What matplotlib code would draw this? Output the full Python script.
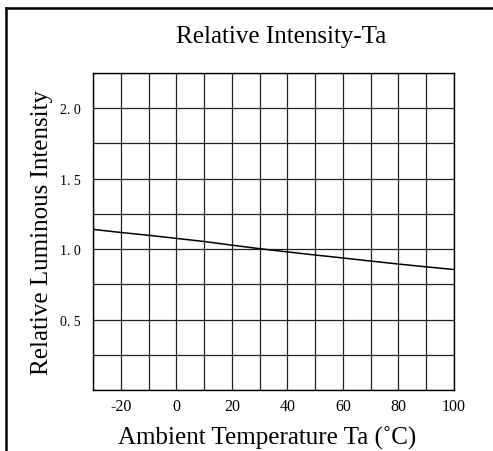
import numpy as np
import matplotlib.pyplot as plt
from matplotlib.lines import Line2D

# datos
temp = [-30, -20, -10, 0, 10, 20, 30, 40, 50, 60, 70, 80, 90, 100]
intensidad = [1.14, 1.118, 1.098, 1.076, 1.054, 1.028, 1.003, 0.98, 0.958,
              0.937, 0.915, 0.894, 0.874, 0.855]
xticks = [-20, 0, 20, 40, 60, 80, 100]
yticks = [0.5, 1.0, 1.5, 2.0]
ytick_labels = ['0. 5', '1. 0', '1. 5', '2. 0']

plt.rcParams['font.family'] = ['Liberation Serif', 'DejaVu Serif']
plt.rcParams['axes.unicode_minus'] = False

fig = plt.figure(figsize=(4.93, 4.52), dpi=100)
ax = fig.add_axes([0.1886, 0.135, 0.7323, 0.7013])

ax.plot(temp, intensidad, color='black', lw=1.1)

ax.set_xlim(-30, 100)
ax.set_ylim(0, 2.25)
ax.set_xticks(xticks)
ax.set_xticks(np.arange(-30, 101, 10), minor=True)
ax.set_yticks(yticks)
ax.set_yticklabels(ytick_labels)
ax.set_yticks(np.arange(0, 2.26, 0.25), minor=True)
ax.grid(True, which='both', color='#222222', lw=0.9)
ax.tick_params(which='both', length=0)
ax.tick_params(axis='x', labelsize=11.5, pad=6)
ax.tick_params(axis='y', labelsize=10, pad=9)
for s in ax.spines.values():
    s.set_linewidth(1.0)

ax.set_title('Relative Intensity-Ta', fontsize=18, pad=22, x=0.52)
ax.set_xlabel('Ambient Temperature Ta (˚C)', fontsize=18, labelpad=8, x=0.483)
ax.set_ylabel('Relative Luminous Intensity', fontsize=18, labelpad=5)

# marco exterior (solo arriba e izquierda)
fig.add_artist(Line2D([0.012, 0.012], [0.0, 0.980], color='black', lw=1.8))
fig.add_artist(Line2D([0.012, 1.0], [0.980, 0.980], color='black', lw=1.8))

fig.savefig('out.png', dpi=100)
